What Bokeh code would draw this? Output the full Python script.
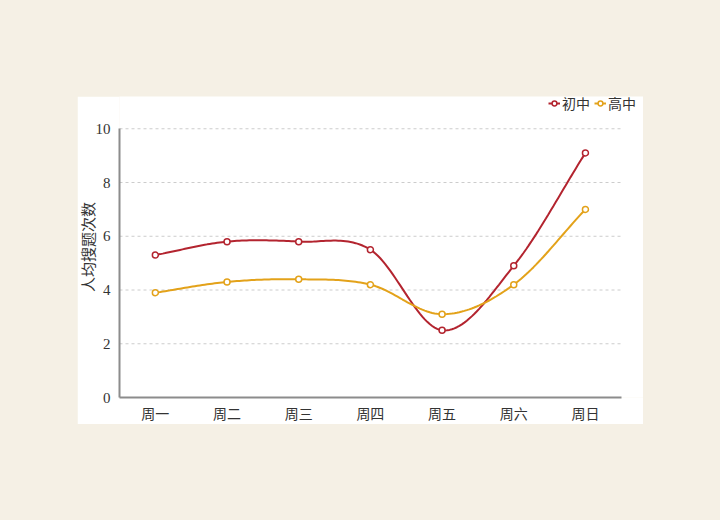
import numpy as np
from bokeh.plotting import figure
from bokeh.models import Range1d, FixedTicker, Legend, LegendItem
from bokeh.layouts import column
from bokeh.embed import file_html
from bokeh.resources import INLINE

days = ["周一", "周二", "周三", "周四", "周五", "周六", "周日"]
junior = [5.3, 5.8, 5.8, 5.5, 2.5, 4.9, 9.1]
senior = [3.9, 4.3, 4.4, 4.2, 3.1, 4.2, 7.0]
y_ticks = [0, 2, 4, 6, 8, 10]

RED = "#b3242f"
ORANGE = "#e3a21a"
SERIF = "Liberation Serif, Noto Sans CJK SC"

xs = [i + 0.5 for i in range(len(days))]

def catmull_rom(xv, yv, n=30):
    x = np.array(xv, float); y = np.array(yv, float)
    m = len(x)
    tang = np.zeros(m)
    for i in range(m):
        if i == 0:
            tang[i] = y[1] - y[0]
        elif i == m - 1:
            tang[i] = y[-1] - y[-2]
        else:
            tang[i] = (y[i + 1] - y[i - 1]) / 2
    outx, outy = [], []
    t = np.linspace(0, 1, n)
    h00 = 2 * t**3 - 3 * t**2 + 1
    h10 = t**3 - 2 * t**2 + t
    h01 = -2 * t**3 + 3 * t**2
    h11 = t**3 - t**2
    for i in range(m - 1):
        seg = h00 * y[i] + h10 * tang[i] + h01 * y[i + 1] + h11 * tang[i + 1]
        segx = x[i] + t * (x[i + 1] - x[i])
        if i > 0:
            seg = seg[1:]; segx = segx[1:]
        outx.extend(segx); outy.extend(seg)
    return outx, outy

p = figure(width=566, height=328, output_backend="svg", toolbar_location=None,
           x_range=Range1d(0, 7.31), y_range=Range1d(0, 11.2),
           min_border_left=42, min_border_right=0, min_border_top=0, min_border_bottom=27,
           background_fill_color="white", border_fill_color="white")
p.margin = (96, 0, 0, 77)
p.outline_line_color = None

p.xaxis.ticker = FixedTicker(ticks=xs)
p.xaxis.major_label_overrides = {x: d for x, d in zip(xs, days)}
p.xaxis.bounds = (0, len(days))
p.yaxis.ticker = FixedTicker(ticks=y_ticks)
p.yaxis.bounds = (y_ticks[0], y_ticks[-1])
for ax in (p.xaxis[0], p.yaxis[0]):
    ax.axis_line_color = "#8c8c8c"
    ax.axis_line_width = 2
    ax.major_tick_line_color = None
    ax.minor_tick_line_color = None
    ax.major_label_text_font = SERIF
    ax.major_label_text_font_size = "15px"
    ax.major_label_text_color = "#333333"
p.xaxis.major_label_text_font_size = "14px"
p.xaxis.major_label_standoff = 3
p.yaxis.major_label_standoff = 3
p.yaxis.axis_label = "人均搜题次数"
p.yaxis.axis_label_text_font = SERIF
p.yaxis.axis_label_text_font_size = "15px"
p.yaxis.axis_label_text_font_style = "normal"
p.yaxis.axis_label_text_color = "#333333"
p.yaxis.axis_label_standoff = -4

p.xgrid.grid_line_color = None
p.ygrid.grid_line_color = None
grid_y = y_ticks[1:]
p.segment(x0=[0] * len(grid_y), x1=[len(days)] * len(grid_y), y0=grid_y, y1=grid_y,
          line_color="#cccccc", line_dash="3 3", line_width=1)

items = []
for name, vals, col in [("初中", junior, RED), ("高中", senior, ORANGE)]:
    cx, cy = catmull_rom(xs, vals)
    lr = p.line(cx, cy, line_color=col, line_width=2)
    sr = p.scatter(xs, vals, marker="circle", size=6, line_color=col, line_width=1.5, fill_color="white")
    items.append(LegendItem(label=name, renderers=[lr, sr]))

legend = Legend(items=items, orientation="horizontal", location=(429, 284),
                glyph_width=12, glyph_height=14, label_height=14, label_standoff=2,
                spacing=4, padding=0, margin=0,
                label_text_font=SERIF, label_text_font_size="14px", label_text_color="#333333",
                background_fill_alpha=0, border_line_color=None)
p.add_layout(legend, "center")

layout = column(p, width=720, height=520, styles={"background-color": "#f5f0e5"})
open("out.html", "w").write(file_html(layout, INLINE))
